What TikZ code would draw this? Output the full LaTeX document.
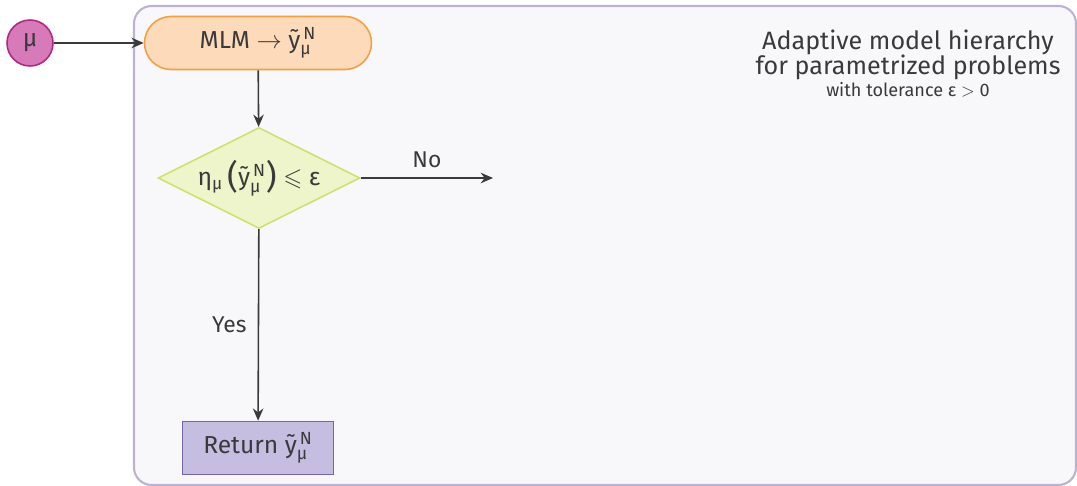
\documentclass[tikz,border=0pt]{standalone}
\usepackage{fontspec}
\usepackage{amssymb}
\setmainfont{Fira Sans}
\usetikzlibrary{shapes.geometric, arrows.meta, positioning}
\definecolor{paramrose}{RGB}{214,122,186}
\definecolor{paramroseline}{RGB}{176,40,130}
\definecolor{framefill}{RGB}{248,248,251}
\definecolor{frameline}{RGB}{190,178,212}
\definecolor{modelfill}{RGB}{253,219,186}
\definecolor{modelline}{RGB}{242,160,72}
\definecolor{testfill}{RGB}{238,245,202}
\definecolor{testline}{RGB}{208,224,110}
\definecolor{returnfill}{RGB}{197,190,224}
\definecolor{returnline}{RGB}{118,98,168}
\definecolor{inkgray}{RGB}{58,58,58}
% reduced solution with its indices
\newcommand{\ytil}{ỹ$^{\mbox{\fontsize{10}{10}\selectfont\,N}}_{\mbox{\fontsize{10}{10}\selectfont μ}}$}
\newcommand{\bigpar}[1]{\raisebox{-1.5pt}{\fontsize{19}{19}\selectfont\textup{#1}}}

\begin{document}
\begin{tikzpicture}[x=0.02cm, y=-0.02cm,
    every node/.style={text=inkgray, font=\fontsize{14}{16}\selectfont},
    flow/.style={draw=inkgray, line width=0.9pt, -{Stealth[length=7pt, width=6pt]}},
    lbl/.style={font=\fontsize{13}{15}\selectfont}]
\useasboundingbox (0,0) rectangle (1077,486);
% surrounding frame
\draw[frameline, fill=framefill, line width=1.2pt, rounded corners=10] (134,6) rectangle (1076,485);
\node[circle, draw=paramroseline, fill=paramrose, line width=0.9pt, minimum size=0.92cm, inner sep=0pt] (mu) at (30,43) {μ};
\node[draw=modelline, fill=modelfill, line width=0.9pt, rounded corners=0.53cm, minimum width=4.54cm, minimum height=1.06cm] (mlm) at (258,43) {MLM $\rightarrow$ \ytil};
\node[diamond, aspect=2, draw=testline, fill=testfill, line width=0.9pt, minimum width=4.04cm, minimum height=2.02cm, inner sep=0pt] (test) at (259,178) {η\textsubscript{μ}\,\bigpar{(}\ytil\bigpar{)} $\leqslant$ ε};
\node[draw=returnline, fill=returnfill, line width=0.9pt, minimum width=3.02cm, minimum height=1.06cm] (ret) at (258,448) {Return \ytil};
\coordinate (nogo) at (493,178);
% connectors
\draw[flow] (mu) -- (mlm);
\draw[flow] (mlm) -- (test);
\draw[flow] (test) -- node[lbl, above=2pt] {No} (nogo);
\draw[flow] (test) -- node[lbl, left=3pt, pos=0.5] {Yes} (ret);
% heading of the frame
\node[align=center, font=\fontsize{14.3}{14.3}\selectfont, anchor=north] (title) at (908,24) {Adaptive model hierarchy\\for parametrized problems};
\node[font=\fontsize{10.3}{12}\selectfont, below=-6pt of title] (tol) {with tolerance ε $>$ 0};
\end{tikzpicture}
\end{document}
